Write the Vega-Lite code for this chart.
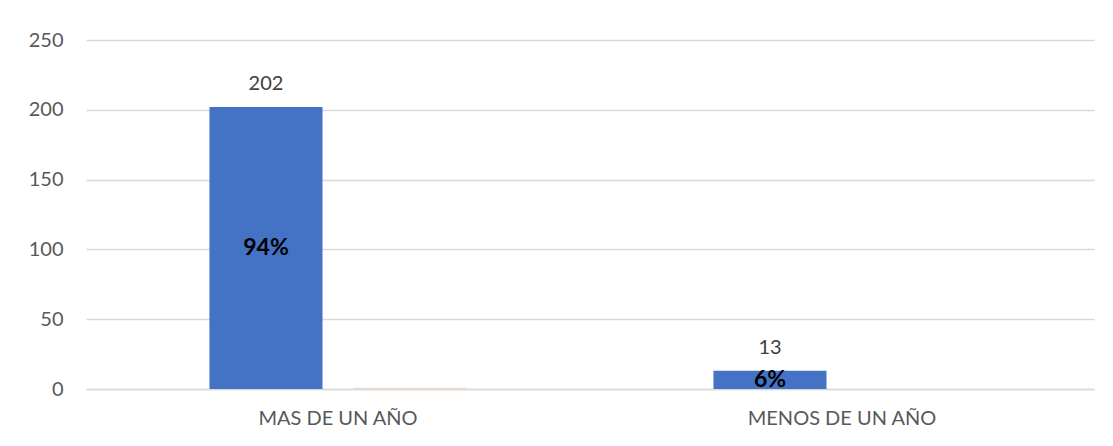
{
  "$schema": "https://vega.github.io/schema/vega-lite/v6.json",
  "autosize": {"type": "none"},
  "width": 1008,
  "height": 349,
  "padding": {"left": 86, "top": 40, "right": 19, "bottom": 57},
  "background": "white",
  "config": {"view": {"stroke": null}, "font": "Lato"},
  "data": {"values": [
    {"categoria": "MAS DE UN AÑO", "frecuencia": 202, "porcentaje": 0.94, "etiqueta": "94%"},
    {"categoria": "MENOS DE UN AÑO", "frecuencia": 13, "porcentaje": 0.06, "etiqueta": "6%"}
  ]},
  "encoding": {
    "x": {
      "field": "categoria", "type": "nominal", "sort": null,
      "scale": {"paddingInner": 0, "paddingOuter": 0},
      "axis": {"title": null, "labelAngle": 0, "labelFontSize": 20, "labelColor": "#595959", "labelPadding": 19, "labelLimit": 0, "ticks": false, "domainColor": "#d9d9d9", "domainWidth": 1.5, "labelFont": "Lato"}
    }
  },
  "layer": [
    {
      "transform": [{"fold": ["frecuencia", "porcentaje"], "as": ["serie", "valor"]}],
      "mark": {"type": "bar"},
      "encoding": {
        "xOffset": {"field": "serie", "type": "nominal", "scale": {"paddingInner": 0.215, "paddingOuter": 0.857}},
        "y": {
          "field": "valor", "type": "quantitative",
          "scale": {"domain": [0, 250], "nice": false},
          "axis": {"title": null, "values": [0, 50, 100, 150, 200, 250], "labelFontSize": 20, "labelColor": "#595959", "labelPadding": 23, "ticks": false, "domain": false, "gridColor": "#d9d9d9", "gridWidth": 1.5, "labelFont": "Lato"}
        },
        "color": {
          "field": "serie", "type": "nominal",
          "scale": {"domain": ["frecuencia", "porcentaje"], "range": ["#4472C4", "#F2DACB"]},
          "legend": null
        }
      }
    },
    {
      "mark": {"type": "text", "baseline": "bottom", "dy": -13, "fontSize": 20, "color": "#404040"},
      "encoding": {
        "xOffset": {"datum": "frecuencia", "scale": {"paddingInner": 0.215, "paddingOuter": 0.857}},
        "y": {"field": "frecuencia", "type": "quantitative"},
        "text": {"field": "frecuencia", "type": "quantitative"}
      }
    },
    {
      "transform": [{"calculate": "datum.frecuencia / 2", "as": "medio"}],
      "mark": {"type": "text", "baseline": "middle", "fontSize": 23, "fontWeight": "bold", "color": "#000000"},
      "encoding": {
        "xOffset": {"datum": "frecuencia", "scale": {"paddingInner": 0.215, "paddingOuter": 0.857}},
        "y": {"field": "medio", "type": "quantitative"},
        "text": {"field": "etiqueta", "type": "nominal"}
      }
    }
  ]
}
